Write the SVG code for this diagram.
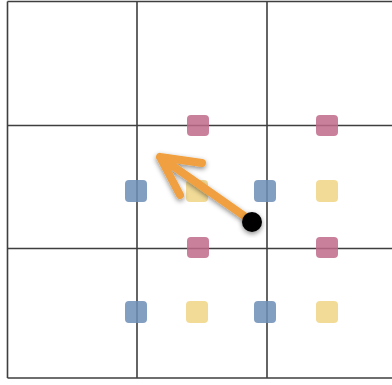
<svg xmlns="http://www.w3.org/2000/svg" width="392" height="385" viewBox="0 0 392 385">
<defs>
<style>
.g{stroke:#2a2a2a;stroke-width:1.6;fill:none;stroke-opacity:0.9}
.p{fill:#c06a89;fill-opacity:0.85}
.b{fill:#6c8db5;fill-opacity:0.85}
.y{fill:#f0d585;fill-opacity:0.85}
.arrow{stroke:#f0a040;stroke-width:8;fill:none;stroke-linecap:round;stroke-linejoin:round}
</style>
<filter id="sh" x="-30%" y="-30%" width="160%" height="160%">
<feDropShadow dx="0" dy="2" stdDeviation="2.5" flood-color="#000" flood-opacity="0.45"/>
</filter>
</defs>
<rect width="392" height="385" fill="#fff"/>
<g id="grid">
<path class="g" d="M7.5 1.5H392M7.5 125.5H392M7.5 248.5H392M7.5 378H392M7.5 1.5V378M137 1.5V378M267 1.5V378"/>
</g>
<g id="pink">
<rect class="p" x="187" y="115" width="22" height="21" rx="4"/>
<rect class="p" x="316" y="115" width="22" height="21" rx="4"/>
<rect class="p" x="187" y="237" width="22" height="21" rx="4"/>
<rect class="p" x="316" y="237" width="22" height="21" rx="4"/>
</g>
<g id="blue">
<rect class="b" x="125" y="180" width="22" height="22" rx="4"/>
<rect class="b" x="254" y="180" width="22" height="22" rx="4"/>
<rect class="b" x="125" y="301" width="22" height="22" rx="4"/>
<rect class="b" x="254" y="301" width="22" height="22" rx="4"/>
</g>
<g id="yellow">
<rect class="y" x="186" y="180" width="22" height="22" rx="4"/>
<rect class="y" x="316" y="180" width="22" height="22" rx="4"/>
<rect class="y" x="186" y="301" width="22" height="22" rx="4"/>
<rect class="y" x="316" y="301" width="22" height="22" rx="4"/>
</g>
<g id="connectors" filter="url(#sh)">
<path class="arrow" d="M250 220L160 157M202 163L160 157L180 195"/>
</g>
<g id="dot">
<circle cx="252" cy="222" r="10" fill="#000" filter="url(#sh)"/>
</g>
</svg>
